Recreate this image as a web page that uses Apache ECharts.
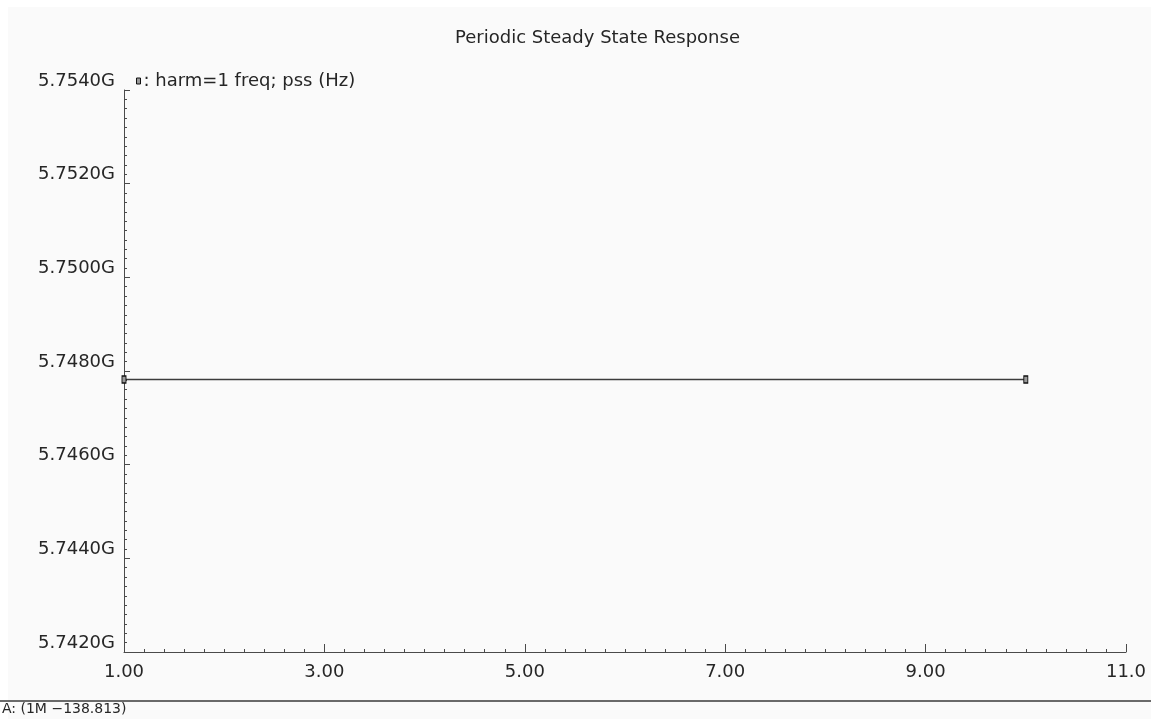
<!DOCTYPE html>
<html>
<head>
<meta charset="utf-8">
<title>Periodic Steady State Response</title>
<script src="https://cdn.jsdelivr.net/npm/echarts@6/dist/echarts.min.js"></script>
<style>
  html, body { margin: 0; padding: 0; background: #ffffff; }
  #panel {
    position: absolute; left: 8px; top: 7px; right: 0; bottom: 0;
    background: #fafafa;
  }
  #chart { position: absolute; left: 0; top: 0; width: 1151px; height: 719px; }
</style>
</head>
<body>
<div id="panel"></div>
<div id="chart"></div>
<script>
// Sweep points and the harmonic-1 frequency found by the PSS analysis
const sweepX = [1, 10];
const freqHz = [5.74782e9, 5.74782e9];

// Axis ranges and tick positions
const xMajorTicks = [1, 3, 5, 7, 9, 11];
const yMin = 5.742e9, yMax = 5.754e9, yStep = 2e6;

const seriesName = 'harm=1 freq; pss (Hz)';
const footerText = 'A: (1M \u2212138.813)';

const FONT = 'DejaVu Sans';
const INK = '#262626';
const AXIS = '#4a4a4a';

const chart = echarts.init(document.getElementById('chart'), null, { renderer: 'canvas' });

chart.setOption({
  backgroundColor: 'transparent',
  animation: false,
  title: {
    text: 'Periodic Steady State Response',
    left: 450, top: 24,
    textStyle: { fontFamily: FONT, fontSize: 18, fontWeight: 'normal', color: INK }
  },
  legend: {
    left: 131, top: 67,
    icon: 'rect', itemWidth: 4, itemHeight: 6, itemGap: 0,
    itemStyle: { color: '#9a9a9a', borderColor: '#111', borderWidth: 1 },
    formatter: name => ': ' + name,
    textStyle: { fontFamily: FONT, fontSize: 18, color: INK, padding: [0, 0, 0, -2] },
    data: [seriesName]
  },
  grid: { left: 124, right: 25, top: 90, bottom: 67, containLabel: false },
  xAxis: [
    {
      // minor ticks every 0.2 plus the labels
      type: 'value', min: 1, max: 11, interval: 0.2,
      axisLine: { show: true, onZero: false, lineStyle: { color: AXIS, width: 1 } },
      axisTick: { show: true, inside: true, length: 3, lineStyle: { color: AXIS } },
      axisLabel: {
        customValues: xMajorTicks,
        margin: 11,
        fontFamily: FONT, fontSize: 18, color: INK,
        formatter: v => (v >= 10 ? v.toFixed(1) : v.toFixed(2))
      },
      splitLine: { show: false }
    },
    {
      // longer major ticks
      type: 'value', min: 1, max: 11, position: 'bottom',
      axisLine: { show: false, onZero: false },
      axisTick: { show: true, inside: true, length: 8, customValues: xMajorTicks, lineStyle: { color: AXIS } },
      axisLabel: { show: false },
      splitLine: { show: false }
    }
  ],
  yAxis: {
    type: 'value', min: yMin, max: yMax, interval: yStep,
    axisLine: { show: true, onZero: false, lineStyle: { color: AXIS, width: 1 } },
    axisTick: { show: true, inside: true, length: 6, lineStyle: { color: AXIS } },
    minorTick: { show: true, splitNumber: 10, length: 3, lineStyle: { color: AXIS } },
    axisLabel: {
      margin: 9,
      verticalAlign: 'bottom',
      fontFamily: FONT, fontSize: 18, color: INK,
      formatter: v => (v / 1e9).toFixed(4) + 'G'
    },
    splitLine: { show: false },
    minorSplitLine: { show: false }
  },
  series: [{
    name: seriesName,
    type: 'line',
    xAxisIndex: 0,
    data: sweepX.map((x, i) => [x, freqHz[i]]),
    symbol: 'rect',
    symbolSize: [4, 7],
    showSymbol: true,
    itemStyle: { color: '#9a9a9a', borderColor: '#111', borderWidth: 1.2 },
    lineStyle: { color: '#3c3c3c', width: 1.5 },
    clip: false
  }],
  graphic: [
    {
      type: 'line',
      shape: { x1: 0, y1: 701, x2: 1151, y2: 701 },
      style: { stroke: '#3a3a3a', lineWidth: 1.5 }
    },
    {
      type: 'text', left: 2, top: 702,
      style: { text: footerText, fontFamily: FONT, fontSize: 14, fill: INK }
    }
  ]
});
</script>
</body>
</html>
